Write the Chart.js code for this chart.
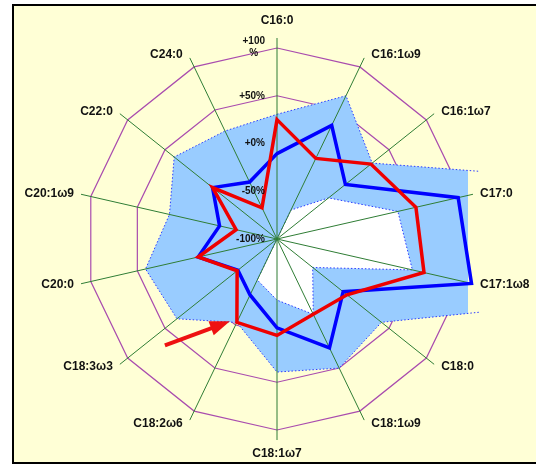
<!DOCTYPE html>
<html>
<head>
<meta charset="utf-8">
<script src="https://cdn.jsdelivr.net/npm/chart.js@4.4.1/dist/chart.umd.min.js"></script>
<style>
  html, body { margin: 0; padding: 0; background: #fff; }
  #frame {
    position: absolute; left: 12px; top: 4px;
    width: 600px; height: 460px; box-sizing: border-box;
    border: 2px solid #000; background: #ffffd6;
  }
  #chart { position: absolute; left: 0; top: 0; }
</style>
</head>
<body>
<div id="frame"></div>
<canvas id="chart" width="536" height="466"></canvas>
<script>
// fatty acids, clockwise from the top
const acids = ['C16:0', 'C16:1ω9', 'C16:1ω7', 'C17:0', 'C17:1ω8', 'C18:0', 'C18:1ω9',
               'C18:1ω7', 'C18:2ω6', 'C18:3ω3', 'C20:0', 'C20:1ω9', 'C22:0', 'C24:0'];

const tickValues = [-100, -50, 0, 50, 100];
const tickLabels = ['-100%', '-50%', '+0%', '+50%', '+100\n%'];

// reference range (upper / lower limit), % deviation
const rangeHigh = [30.6, 66.5, 27.5, 193, 205, 39.9, 50, 39.3, -3, 34, 41.2, 15.5, 37.7, 25.5];
const rangeLow  = [-100, -66.4, -31, 29.8, 45.4, -52.2, -12.5, -36, -52.4, -100, -100, -100, -100, -100];

// samples
const sampleBlue = [-10.6, 32, -8.4, 94.6, 108.9, -11.4, 26.6, -7, -35, -47.6, -15.3, -38.3, -13.7, -33.8];
const sampleRed  = [25, -6.3, 25.8, 49.2, 57.9, -6.3, -12.5, 1, -3.2, -46.6, -15.3, -56.1, -13.7, -63.8];

const LABEL_FONT = "bold 12px 'Liberation Sans', Arial, sans-serif";
const TICK_FONT = "bold 10px 'Liberation Sans', Arial, sans-serif";

const radarDecor = {
    id: 'radarDecor',
    // spokes go over the range fills but under the sample lines
    afterDatasetDraw(chart, args) {
        if (args.index !== 1) return;
        const r = chart.scales.r;
        const ctx = chart.ctx;
        ctx.save();
        ctx.strokeStyle = '#2f7d35';
        ctx.lineWidth = 1;
        acids.forEach((_, i) => {
            const p = r.getPointPosition(i, r.drawingArea + 10);
            ctx.beginPath();
            ctx.moveTo(r.xCenter, r.yCenter);
            ctx.lineTo(p.x, p.y);
            ctx.stroke();
        });
        ctx.restore();
    },
    afterDraw(chart) {
        const r = chart.scales.r;
        const ctx = chart.ctx;
        ctx.save();
        ctx.fillStyle = '#111';
        ctx.textBaseline = 'middle';

        // axis labels
        ctx.font = LABEL_FONT;
        acids.forEach((name, i) => {
            const a = r.getIndexAngle(i);
            const s = Math.sin(a), c = Math.cos(a);
            const p = r.getPointPosition(i, r.drawingArea + 10);
            if (Math.abs(s) < 0.01) {
                ctx.textAlign = 'center';
                ctx.fillText(name, p.x, c > 0 ? p.y - 17 : p.y + 14);
            } else {
                ctx.textAlign = s > 0 ? 'left' : 'right';
                ctx.fillText(name, p.x + (s > 0 ? 7 : -7), p.y - 3.5 * c);
            }
        });

        // percentage ticks, left of the top spoke
        ctx.font = TICK_FONT;
        ctx.textAlign = 'center';
        tickValues.forEach((v, k) => {
            const y = r.yCenter - r.getDistanceFromCenterForValue(v);
            const lines = tickLabels[k].split('\n');
            const w = Math.max(...lines.map(t => ctx.measureText(t).width));
            const cx = r.xCenter - 12 - w / 2;
            const y0 = y - (lines.length - 1) * 6.2 - (lines.length > 1 ? 1 : 0);
            lines.forEach((t, j) => ctx.fillText(t, cx, y0 + j * 12.4));
        });

        // arrow pointing at the red sample near C18:2ω6
        const pt = r.getPointPositionForValue(8, sampleRed[8]);
        const tipX = pt.x - 7, tipY = pt.y - 1;
        const tailX = tipX - 65, tailY = tipY + 24;
        const len = Math.hypot(tipX - tailX, tipY - tailY);
        const ux = (tipX - tailX) / len, uy = (tipY - tailY) / len;
        const headLen = 20, headHalf = 7.5;
        const bx = tipX - ux * headLen, by = tipY - uy * headLen;
        ctx.strokeStyle = '#ee1111';
        ctx.fillStyle = '#ee1111';
        ctx.lineWidth = 4;
        ctx.beginPath();
        ctx.moveTo(tailX, tailY);
        ctx.lineTo(bx + ux * 2, by + uy * 2);
        ctx.stroke();
        ctx.beginPath();
        ctx.moveTo(tipX, tipY);
        ctx.lineTo(bx - uy * headHalf, by + ux * headHalf);
        ctx.lineTo(bx + uy * headHalf, by - ux * headHalf);
        ctx.closePath();
        ctx.fill();

        ctx.restore();
    }
};

new Chart(document.getElementById('chart'), {
    type: 'radar',
    data: {
        labels: acids,
        datasets: [
            {
                data: rangeHigh, order: 3, fill: 'start',
                backgroundColor: '#99ccff', borderColor: '#2b3bff',
                borderWidth: 1, borderDash: [1.5, 2], pointRadius: 0,
                clip: { left: false, top: false, right: 12, bottom: false }
            },
            {
                data: rangeLow, order: 2, fill: 'start',
                backgroundColor: '#ffffff', borderColor: '#2b3bff',
                borderWidth: 1, borderDash: [1.5, 2], pointRadius: 0, clip: false
            },
            {
                data: sampleBlue, order: 1, fill: false,
                borderColor: '#0000ff', borderWidth: 3.5, pointRadius: 0, clip: false
            },
            {
                data: sampleRed, order: 0, fill: false,
                borderColor: '#ee0000', borderWidth: 3.5, pointRadius: 0, clip: false
            }
        ]
    },
    options: {
        responsive: false,
        animation: false,
        devicePixelRatio: 1,
        layout: { padding: { left: 86, right: 68, top: 48, bottom: 36 } },
        plugins: { legend: { display: false }, tooltip: { enabled: false } },
        scales: {
            r: {
                min: -100, max: 100,
                ticks: { stepSize: 50, display: false },
                grid: { color: '#a94cae', lineWidth: 1.2 },
                angleLines: { display: false },
                pointLabels: { display: false }
            }
        }
    },
    plugins: [radarDecor]
});
</script>
</body>
</html>
